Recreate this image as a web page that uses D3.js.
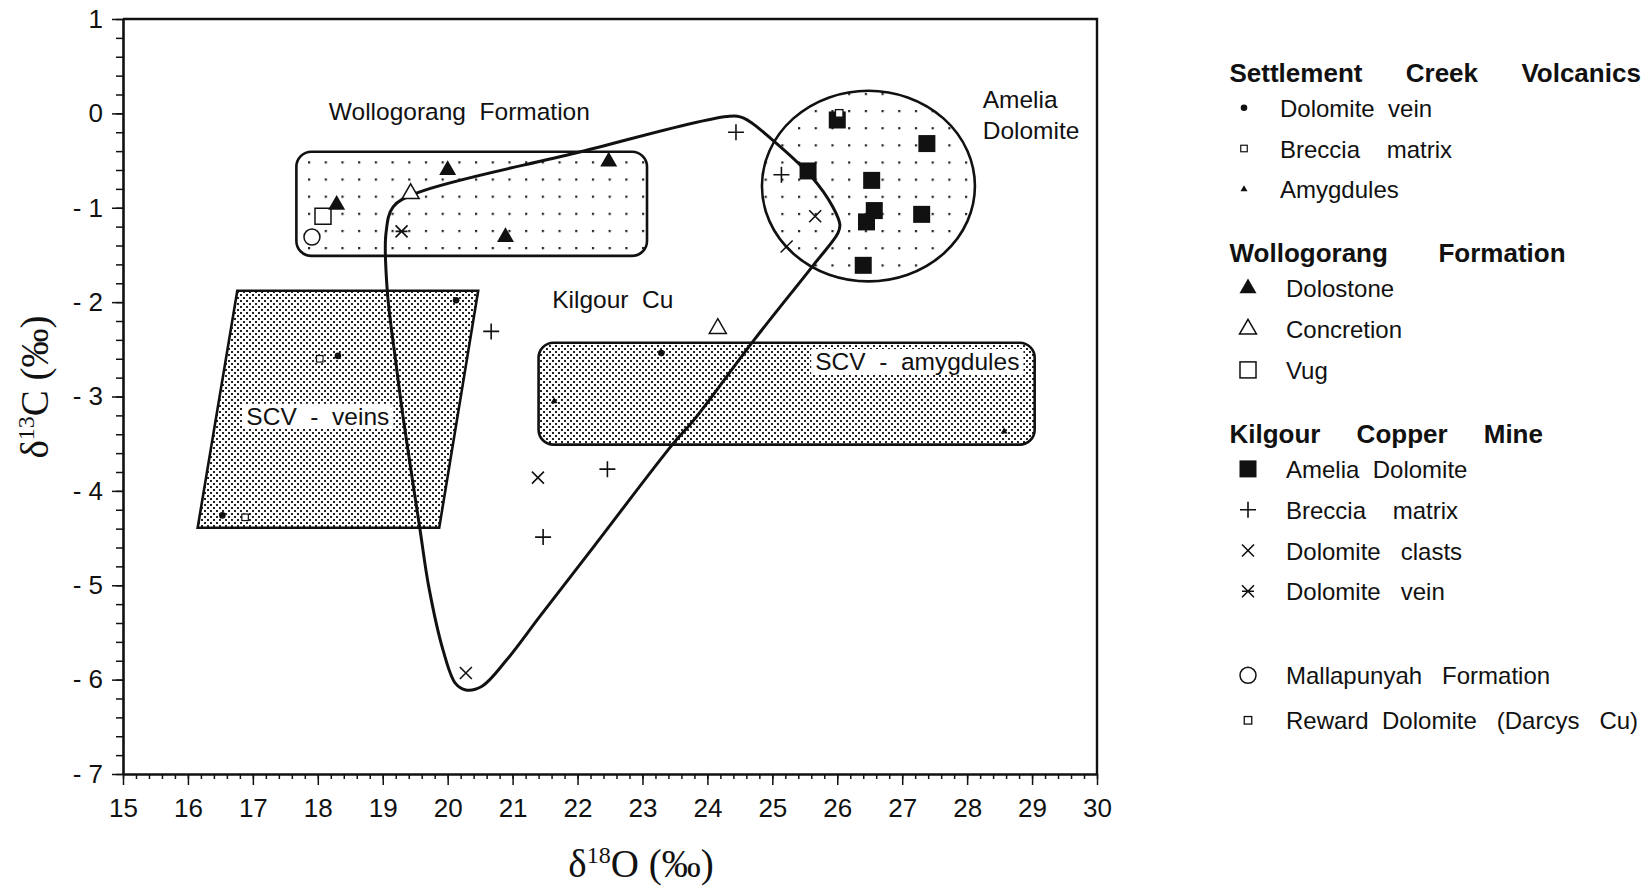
<!DOCTYPE html>
<html><head><meta charset="utf-8">
<script src="https://cdn.jsdelivr.net/npm/d3@7"></script>
<style>
html,body{margin:0;padding:0;background:#fff;}
svg{display:block;}
text{font-family:"Liberation Sans",Arial,sans-serif;fill:#111;}
.pre{white-space:pre;}
</style></head><body>
<svg id="chart" width="1646" height="887"></svg>
<script>
// ---------------- data ----------------
const xTicks = [15,16,17,18,19,20,21,22,23,24,25,26,27,28,29,30];
const xTickLabels = ["15","16","17","18","19","20","21","22","23","24","25","26","27","28","29","30"];
const yTicks = [1,0,-1,-2,-3,-4,-5,-6,-7];
const yTickLabels = ["1","0","- 1","- 2","- 3","- 4","- 5","- 6","- 7"];

// Settlement Creek Volcanics
const scvDolomiteVein = [[20.13,-1.98],[18.31,-2.57],[16.53,-4.26],[23.29,-2.54]];
const scvBrecciaMatrix = [[18.03,-2.60],[16.88,-4.28]];
const scvAmygdules = [[21.64,-3.05],[28.57,-3.37]];
// Wollogorang Formation
const wolDolostone = [[18.29,-0.97],[20.00,-0.60],[20.89,-1.31],[22.48,-0.51]];
const wolConcretion = [[19.43,-0.85],[24.16,-2.28]];
const wolVug = [[18.08,-1.09]];
// Kilgour Copper Mine
const kilAmeliaDolomite = [[26.00,-0.07],[27.38,-0.32],[25.55,-0.61],[26.53,-0.71],[26.57,-1.03],[26.45,-1.15],[27.30,-1.07],[26.40,-1.61]];
const kilBrecciaMatrix = [[24.44,-0.20],[25.14,-0.65],[20.67,-2.31],[22.46,-3.77],[21.47,-4.49]];
const kilDolomiteClasts = [[25.66,-1.09],[25.22,-1.41],[21.39,-3.86],[20.28,-5.93]];
const kilDolomiteVein = [[19.29,-1.25]];
// others
const mallapunyah = [[17.91,-1.31]];
const rewardDolomite = [[26.03,0.00]];

// field outlines (data units)
const wollogorangField = {x0:17.67, x1:23.07, y0:-1.51, y1:-0.406};
const ameliaField = {cx:26.48, cy:-0.77, rx:1.64, ry:1.01};
const scvVeinsField = [[16.76,-1.88],[20.47,-1.88],[19.87,-4.39],[16.15,-4.39]];
const scvAmygField = {x0:21.40, x1:29.04, y0:-3.51, y1:-2.43};
const kilgourField = [[19.16,-0.99],[19.54,-0.84],[21.97,-0.42],[24.34,-0.03],[24.56,-0.05],[25.00,-0.28],
  [25.60,-0.67],[25.93,-0.99],[26.04,-1.18],[26.01,-1.27],[25.63,-1.61],[24.72,-2.40],[23.79,-3.25],
  [23.46,-3.51],[22.25,-4.59],[21.42,-5.33],[20.91,-5.79],[20.53,-6.07],[20.28,-6.11],[20.12,-6.04],
  [19.93,-5.69],[19.71,-5.02],[19.57,-4.39],[19.32,-3.25],[19.21,-2.68],[19.07,-1.88],[19.05,-1.27]];

// field labels
const fieldLabels = [
  {text:"Wollogorang  Formation", x:18.17, y:-0.07},
  {text:"Amelia", x:28.24, y:0.06},
  {text:"Dolomite", x:28.24, y:-0.27},
  {text:"Kilgour  Cu", x:21.61, y:-2.06},
  {text:"SCV  -  amygdules", x:25.66, y:-2.72, knock:true},
  {text:"SCV  -  veins", x:16.9, y:-3.30, knock:true}
];

// legend
const legendGroups = [
  {title:"Settlement      Creek      Volcanics", items:[
    ["scvVein","Dolomite  vein"],["scvBreccia","Breccia    matrix"],["scvAmyg","Amygdules"]]},
  {title:"Wollogorang       Formation", items:[
    ["wolDolo","Dolostone"],["wolConc","Concretion"],["wolVug","Vug"]]},
  {title:"Kilgour     Copper     Mine", items:[
    ["kilAmelia","Amelia  Dolomite"],["kilBreccia","Breccia    matrix"],["kilClasts","Dolomite   clasts"],["kilVein","Dolomite   vein"]]},
  {title:"", items:[
    ["mall","Mallapunyah   Formation"],["reward","Reward  Dolomite   (Darcys   Cu)"]]}
];

// ---------------- drawing ----------------
const svg = d3.select("#chart");
const x = d3.scaleLinear().domain([15,30]).range([123,1097]);
const y = d3.scaleLinear().domain([-7,1]).range([774,19]);
const INK = "#111";

const defs = svg.append("defs");
function sparsePattern(id, ox, oy){
  const p = defs.append("pattern").attr("id",id).attr("patternUnits","userSpaceOnUse")
    .attr("width",16.7).attr("height",17.15).attr("x",ox).attr("y",oy);
  p.append("rect").attr("width",2.2).attr("height",2.2).attr("fill","#222");
}
sparsePattern("sparseW", 308, 161.3);
sparsePattern("sparseA", 798, 110);
const dp = defs.append("pattern").attr("id","dense").attr("patternUnits","userSpaceOnUse")
  .attr("width",6).attr("height",6);
dp.append("rect").attr("x",0).attr("y",0).attr("width",2).attr("height",2).attr("fill","#222");
dp.append("rect").attr("x",3).attr("y",3).attr("width",2).attr("height",2).attr("fill","#222");

const plot = svg.append("g");

// fields
plot.append("rect")
  .attr("x",x(wollogorangField.x0)).attr("y",y(wollogorangField.y1))
  .attr("width",x(wollogorangField.x1)-x(wollogorangField.x0))
  .attr("height",y(wollogorangField.y0)-y(wollogorangField.y1))
  .attr("rx",15).attr("fill","url(#sparseW)").attr("stroke",INK).attr("stroke-width",2.6);

plot.append("ellipse")
  .attr("cx",x(ameliaField.cx)).attr("cy",y(ameliaField.cy))
  .attr("rx",x(ameliaField.cx+ameliaField.rx)-x(ameliaField.cx))
  .attr("ry",y(ameliaField.cy-ameliaField.ry)-y(ameliaField.cy))
  .attr("fill","url(#sparseA)").attr("stroke",INK).attr("stroke-width",2.6);

plot.append("path")
  .attr("d", d3.line().x(d=>x(d[0])).y(d=>y(d[1]))(scvVeinsField)+"Z")
  .attr("fill","url(#dense)").attr("stroke",INK).attr("stroke-width",2.6).attr("stroke-linejoin","miter");

plot.append("rect")
  .attr("x",x(scvAmygField.x0)).attr("y",y(scvAmygField.y1))
  .attr("width",x(scvAmygField.x1)-x(scvAmygField.x0))
  .attr("height",y(scvAmygField.y0)-y(scvAmygField.y1))
  .attr("rx",15).attr("fill","url(#dense)").attr("stroke",INK).attr("stroke-width",2.6);

// field labels
fieldLabels.forEach(l=>{
  const t = plot.append("text").attr("class","pre")
    .attr("x",x(l.x)).attr("y",y(l.y)).attr("font-size",24.5).text(l.text);
  if(l.knock){
    const b = t.node().getBBox();
    plot.insert("rect", function(){return t.node();})
      .attr("x",b.x-4).attr("y",b.y+1).attr("width",b.width+8).attr("height",b.height-2)
      .attr("fill","#fff");
  }
});

// kilgour outline
plot.append("path")
  .attr("d", d3.line().x(d=>x(d[0])).y(d=>y(d[1])).curve(d3.curveCatmullRomClosed.alpha(0.5))(kilgourField))
  .attr("fill","none").attr("stroke",INK).attr("stroke-width",3);

// marker styles
const markerStyle = {
  scvVein:{type:"dot", s:3.3},
  scvBreccia:{type:"sqOpen", s:6.5, w:1.2},
  scvAmyg:{type:"triFill", s:7},
  wolDolo:{type:"triFill", s:17},
  wolConc:{type:"triOpen", s:17},
  wolVug:{type:"sqOpen", s:16, w:1.5},
  kilAmelia:{type:"sqFill", s:17},
  kilBreccia:{type:"plus", s:16},
  kilClasts:{type:"cross", s:12},
  kilVein:{type:"aster", s:12},
  mall:{type:"circOpen", s:16},
  reward:{type:"sqOpen", s:7.5, w:1.3}
};
function drawMarker(g, key, cx, cy){
  const st = markerStyle[key];
  const s = st.s;
  switch(st.type){
    case "dot":
      g.append("circle").attr("cx",cx).attr("cy",cy).attr("r",s).attr("fill",INK); break;
    case "sqOpen":
      g.append("rect").attr("x",cx-s/2).attr("y",cy-s/2).attr("width",s).attr("height",s)
        .attr("fill","#fff").attr("stroke",INK).attr("stroke-width",st.w); break;
    case "sqFill":
      g.append("rect").attr("x",cx-s/2).attr("y",cy-s/2).attr("width",s).attr("height",s).attr("fill",INK); break;
    case "triFill":
      g.append("path").attr("transform",`translate(${cx},${cy})`)
        .attr("d",d3.symbol(d3.symbolTriangle, Math.sqrt(3)/4*s*s)()).attr("fill",INK); break;
    case "triOpen":
      g.append("path").attr("transform",`translate(${cx},${cy})`)
        .attr("d",d3.symbol(d3.symbolTriangle, Math.sqrt(3)/4*s*s)())
        .attr("fill","#fff").attr("stroke",INK).attr("stroke-width",1.5); break;
    case "circOpen":
      g.append("circle").attr("cx",cx).attr("cy",cy).attr("r",s/2)
        .attr("fill","#fff").attr("stroke",INK).attr("stroke-width",1.5); break;
    case "plus":
      g.append("path").attr("d",`M${cx-s/2},${cy}H${cx+s/2}M${cx},${cy-s/2}V${cy+s/2}`)
        .attr("stroke",INK).attr("stroke-width",1.6).attr("fill","none"); break;
    case "cross":
      g.append("path").attr("d",`M${cx-s/2},${cy-s/2}L${cx+s/2},${cy+s/2}M${cx-s/2},${cy+s/2}L${cx+s/2},${cy-s/2}`)
        .attr("stroke",INK).attr("stroke-width",1.6).attr("fill","none"); break;
    case "aster":
      g.append("path").attr("d",`M${cx-s/2},${cy-s/2}L${cx+s/2},${cy+s/2}M${cx-s/2},${cy+s/2}L${cx+s/2},${cy-s/2}M${cx-s/2},${cy}H${cx+s/2}`)
        .attr("stroke",INK).attr("stroke-width",1.6).attr("fill","none"); break;
  }
}

const seriesList = [
  ["scvVein",scvDolomiteVein],["scvBreccia",scvBrecciaMatrix],["scvAmyg",scvAmygdules],
  ["kilBreccia",kilBrecciaMatrix],["kilClasts",kilDolomiteClasts],["kilVein",kilDolomiteVein],
  ["kilAmelia",kilAmeliaDolomite],["reward",rewardDolomite],
  ["wolVug",wolVug],["mall",mallapunyah],["wolDolo",wolDolostone],["wolConc",wolConcretion]
];
const mg = svg.append("g");
seriesList.forEach(([key,data])=>{
  data.forEach(d=>drawMarker(mg, key, x(d[0]), y(d[1])));
});

// frame & axes
svg.append("path").attr("d",`M${x(15)},${y(1)}H${x(30)}V${y(-7)}`)
  .attr("fill","none").attr("stroke",INK).attr("stroke-width",2.4);

const xMinor = d3.range(15,30.001,0.2);
const yMinor = d3.range(-7,1.001,0.2);
const gxm = svg.append("g").attr("transform",`translate(0,${y(-7)})`)
  .call(d3.axisBottom(x).tickValues(xMinor).tickSize(5).tickFormat("").tickSizeOuter(0));
gxm.select(".domain").remove();
const gym = svg.append("g").attr("transform",`translate(${x(15)},0)`)
  .call(d3.axisLeft(y).tickValues(yMinor).tickSize(7).tickFormat("").tickSizeOuter(0));
gym.select(".domain").remove();

const gx = svg.append("g").attr("transform",`translate(0,${y(-7)})`)
  .call(d3.axisBottom(x).tickValues(xTicks).tickSize(11).tickPadding(14).tickSizeOuter(0)
    .tickFormat((d,i)=>xTickLabels[i]));
const gy = svg.append("g").attr("transform",`translate(${x(15)},0)`)
  .call(d3.axisLeft(y).tickValues(yTicks).tickSize(11).tickPadding(9).tickSizeOuter(0)
    .tickFormat((d,i)=>yTickLabels[i]));
[gx,gy,gxm,gym].forEach(g=>{
  g.attr("font-family",null).attr("font-size",null);
  g.selectAll(".tick line").attr("stroke",INK).attr("stroke-width",1.5);
  g.selectAll(".tick text").attr("font-size",26).attr("fill",INK).style("white-space","pre");
  g.select(".domain").attr("stroke",INK).attr("stroke-width",2.6);
});

// axis titles
const serif = '"Liberation Serif","Times New Roman",serif';
const xt = svg.append("text").attr("x",641).attr("y",877).attr("text-anchor","middle")
  .style("font-family",serif).attr("font-size",39);
xt.append("tspan").text("δ");
xt.append("tspan").attr("font-size",24).attr("dy",-14).text("18");
xt.append("tspan").attr("dy",14).text("O (‰)");

const yt = svg.append("text").attr("transform","translate(48,387) rotate(-90)").attr("text-anchor","middle")
  .style("font-family",serif).attr("font-size",39);
yt.append("tspan").text("δ");
yt.append("tspan").attr("font-size",24).attr("dy",-14).text("13");
yt.append("tspan").attr("dy",14).text("C (‰)");

// legend
const lg = svg.append("g");
let cursor = 81.7;
legendGroups.forEach((grp,gi)=>{
  const markX = gi===0 ? 1244 : 1248;
  const textX = gi===0 ? 1280 : 1286;
  if(grp.title){
    lg.append("text").attr("class","pre").attr("x",1229.5).attr("y",cursor)
      .attr("font-size",26).attr("font-weight","bold").text(grp.title);
    cursor += 35;
  } else {
    cursor += 20;
  }
  grp.items.forEach(([key,label],ii)=>{
    drawMarker(lg, key, markX, cursor-9);
    lg.append("text").attr("class","pre").attr("x",textX).attr("y",cursor)
      .attr("font-size",24).text(label);
    cursor += (ii < grp.items.length-1) ? (gi===3 ? 45 : 40.8) : 0;
  });
  cursor += 64;
});
</script>
</body></html>
